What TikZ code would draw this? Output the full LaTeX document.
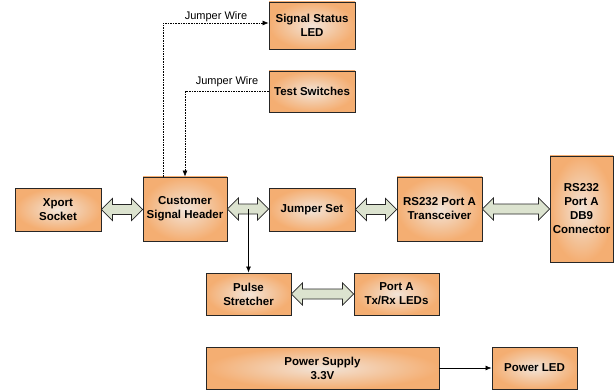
\documentclass[tikz,border=0pt]{standalone}
\usepackage{fontspec}
\setmainfont{Liberation Sans}
\usetikzlibrary{arrows.meta,calc}
\definecolor{boxout}{HTML}{F4AE72}
\definecolor{boxin}{HTML}{F2E4D8}
\definecolor{arrfill}{HTML}{DCE3CF}
\definecolor{edge}{HTML}{262626}
\tikzset{
  blk/.style={draw=edge,line width=0.9pt,rectangle,inner color=boxin,outer color=boxout,
    align=center,font=\fontsize{11.5}{14}\selectfont\bfseries,inner sep=1pt},
  wire/.style={draw=black,line width=0.6pt,dash pattern=on 1.6pt off 1pt,-{Latex[length=6pt,width=5pt]}},
  solidarr/.style={draw=black,line width=0.7pt,-{Latex[length=6pt,width=5pt]}},
  blockarrow/.style={draw=edge,line width=0.7pt,fill=arrfill,line join=miter},
  lbl/.style={font=\fontsize{11}{13}\selectfont,inner sep=1pt}
}
\newcommand\dblarr[2]{%
  \path[blockarrow] let \p1=(#1.east), \p2=(#2.west) in
   (\x1,\y1) -- ({\x1+11pt},{\y1+11pt}) -- ({\x1+11pt},{\y1+5pt}) -- ({\x2-11pt},{\y1+5pt})
   -- ({\x2-11pt},{\y1+11pt}) -- (\x2,\y1) -- ({\x2-11pt},{\y1-11pt}) -- ({\x2-11pt},{\y1-5pt})
   -- ({\x1+11pt},{\y1-5pt}) -- ({\x1+11pt},{\y1-11pt}) -- cycle;}
\begin{document}
\begin{tikzpicture}[x=1pt,y=-1pt]
\useasboundingbox (0,0) rectangle (615,390);
\node[blk,minimum width=86pt,minimum height=47pt] (ssled) at (312,25.5) {Signal Status\\LED};
\node[blk,minimum width=86pt,minimum height=41pt] (tsw) at (312,91.5) {Test Switches};
\node[blk,minimum width=86pt,minimum height=43pt] (xport) at (58,209.5) {Xport\\Socket};
\node[blk,minimum width=84pt,minimum height=64pt] (csh) at (185,209) {Customer\\Signal Header};
\node[blk,minimum width=86pt,minimum height=43pt] (jset) at (312,209.5) {Jumper Set};
\node[blk,minimum width=85pt,minimum height=64pt] (rs) at (439.5,209) {RS232 Port A\\Transceiver};
\node[blk,minimum width=63pt,minimum height=106pt] (db9) at (581.5,209) {RS232\\Port A\\DB9\\Connector};
\node[blk,minimum width=85pt,minimum height=42pt] (pulse) at (248.5,294) {Pulse\\Stretcher};
\node[blk,minimum width=85pt,minimum height=42pt] (txrx) at (396.5,294) {Port A\\Tx/Rx LEDs};
\node[blk,minimum width=233pt,minimum height=42pt] (psu) at (322.5,368) {Power Supply\\3.3V};
\node[blk,minimum width=85pt,minimum height=42pt] (pled) at (534.5,368) {Power LED};
\coordinate (w1) at (163,177);
\draw[wire] (w1) |- ([yshift=2.5pt]ssled.west);
\draw[wire] (tsw.west) -| (csh.north);
\node[lbl] (l1) at (216,17) {Jumper Wire};
\node[lbl] (l2) at (227,82) {Jumper Wire};
\dblarr{xport}{csh}
\dblarr{csh}{jset}
\dblarr{jset}{rs}
\dblarr{rs}{db9}
\dblarr{pulse}{txrx}
\draw[solidarr] (pulse.north |- csh.east) -- (pulse.north);
\draw[solidarr] (psu.east) -- (pled.west);
\end{tikzpicture}
\end{document}
